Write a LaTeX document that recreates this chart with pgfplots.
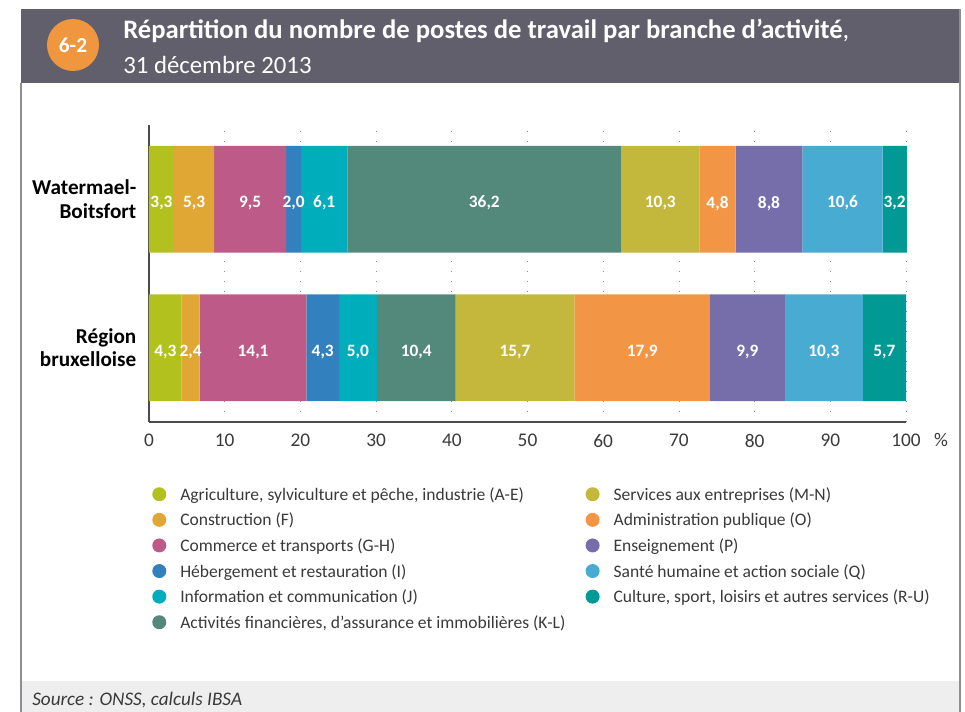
\documentclass[border=0pt]{standalone}
\usepackage{pgfplots}
\pgfplotsset{compat=1.18}
\usepackage{fontspec}
\setmainfont{Carlito}
\definecolor{cA}{HTML}{B2C11E}
\definecolor{cB}{HTML}{E0A734}
\definecolor{cC}{HTML}{BE5A87}
\definecolor{cD}{HTML}{3380BF}
\definecolor{cE}{HTML}{00AEBB}
\definecolor{cF}{HTML}{52897B}
\definecolor{cG}{HTML}{C4B83C}
\definecolor{cH}{HTML}{F29645}
\definecolor{cI}{HTML}{756EAA}
\definecolor{cJ}{HTML}{48ABD2}
\definecolor{cK}{HTML}{009993}
\definecolor{header}{HTML}{625F6C}
\definecolor{framec}{HTML}{8E8C96}
\definecolor{srcbg}{HTML}{EDEEED}
\definecolor{badge}{HTML}{F0963F}
\definecolor{txt}{HTML}{3A3A3A}
\newcommand{\legtxt}[1]{\hspace*{10.5pt}\makebox[304pt][l]{#1}}
\pgfplotsset{
  mybar/.style={fill=#1, draw=none,
    legend image code/.code={\fill[#1] (0pt,0pt) circle (5.25pt);}},
}
\begin{document}
\begin{tikzpicture}
\path[use as bounding box] (0,0) rectangle (723.75pt,534pt);
\fill[white] (0,0) rectangle (723.75pt,534pt);
\fill[header] (15.4pt,471.75pt) rectangle (720.75pt,527.25pt);
\fill[srcbg] (15.75pt,0) rectangle (720pt,23.25pt);
\draw[framec, line width=1.5pt] (15.75pt,471.75pt) -- (15.75pt,0);
\draw[framec, line width=1.5pt] (720pt,527.25pt) -- (720pt,0);
\fill[badge] (54.75pt,500.25pt) circle (19.5pt);
\node[text=white, font=\bfseries\fontsize{16}{18}\selectfont] at (54.75pt,500.25pt) {6-2};
\node[anchor=west, inner sep=0pt, text=white, font=\fontsize{20}{23}\selectfont] at (92.25pt,510.75pt) {\textbf{Répartition du nombre de postes de travail par branche d’activité},};
\node[anchor=west, inner sep=0pt, text=white, font=\fontsize{18.6}{21}\selectfont] at (92.25pt,485.25pt) {31 décembre 2013};
\node[anchor=west, inner sep=0pt, text=txt, font=\itshape\fontsize{14.4}{16}\selectfont] at (24pt,9pt) {Source : ONSS, calculs IBSA};
\node[text=txt, font=\fontsize{14.5}{16}\selectfont] at (705.75pt,204pt) {\%};
\begin{axis}[
  at={(111.75pt,217.5pt)}, anchor=south west,
  scale only axis, width=567.75pt, height=222.75pt,
  xbar stacked, bar width=0.718,
  xmin=0, xmax=100, ymin=-0.5, ymax=1.5,
  clip=false,
  xtick={0,10,...,100},
  ytick={0,1},
  yticklabels={{Région\\bruxelloise},{Watermael-\\Boitsfort}},
  yticklabel style={align=right, font=\bfseries\fontsize{15.9}{17.5}\selectfont, text=black, xshift=-6pt},
  xticklabel style={font=\fontsize{14.5}{16}\selectfont, text=txt, yshift=-5.5pt},
  /pgf/number format/assume math mode=true,
  major tick length=0pt,
  axis x line*=bottom, axis y line*=left,
  axis line style={draw=black!70, line width=0.8pt},
  xmajorgrids, grid style={draw=black!45, line width=0.6pt, dash pattern=on 0.75pt off 6.75pt},
  visualization depends on={rawx \as \rawv},
  nodes near coords={\pgfmathprintnumber[fixed,fixed zerofill,precision=1,use comma]{\rawv}},
  every node near coord/.append style={anchor=center, text=white, font=\bfseries\fontsize{13}{15}\selectfont, yshift=-3pt},
  legend style={at={(0.004,-0.1993)}, anchor=north west, draw=none, fill=none, inner sep=0pt,
     font=\fontsize{13.15}{15}\selectfont, text=txt, row sep=0pt,
     nodes={inner sep=0pt, text height=14.2pt, text depth=5pt}},
  legend cell align=left,
  transpose legend,
  legend columns=6,
]
\addplot[mybar=cA] coordinates {(4.3,0) (3.3,1)};
\addplot[mybar=cB] coordinates {(2.4,0) (5.3,1)};
\addplot[mybar=cC] coordinates {(14.1,0) (9.5,1)};
\addplot[mybar=cD] coordinates {(4.3,0) (2.0,1)};
\addplot[mybar=cE] coordinates {(5.0,0) (6.1,1)};
\addplot[mybar=cF] coordinates {(10.4,0) (36.2,1)};
\addplot[mybar=cG] coordinates {(15.7,0) (10.3,1)};
\addplot[mybar=cH] coordinates {(17.9,0) (4.8,1)};
\addplot[mybar=cI] coordinates {(9.9,0) (8.8,1)};
\addplot[mybar=cJ] coordinates {(10.3,0) (10.6,1)};
\addplot[mybar=cK] coordinates {(5.7,0) (3.2,1)};
\legend{\legtxt{Agriculture, sylviculture et pêche, industrie (A-E)},
\legtxt{Construction (F)},
\legtxt{Commerce et transports (G-H)},
\legtxt{Hébergement et restauration (I)},
\legtxt{Information et communication (J)},
\legtxt{Activités financières, d'assurance et immobilières (K-L)},
\legtxt{Services aux entreprises (M-N)},
\legtxt{Administration publique (O)},
\legtxt{Enseignement (P)},
\legtxt{Santé humaine et action sociale (Q)},
\legtxt{Culture, sport, loisirs et autres services (R-U)}}
\end{axis}
\end{tikzpicture}
\end{document}
